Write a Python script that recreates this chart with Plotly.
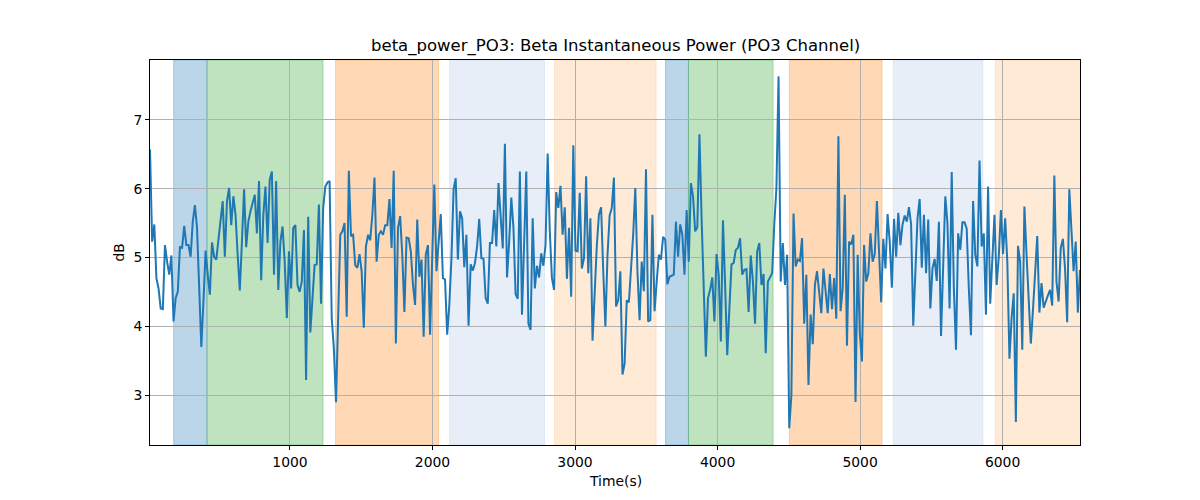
import numpy as np
import plotly.graph_objects as go

T_START = 18
T_END = 6543

beta_db = [
    6.57, 5.23, 5.48, 4.70, 4.55, 4.26, 4.25, 5.18, 4.94, 4.75, 5.03, 4.07, 4.41, 4.50, 5.15, 5.14, 5.46, 5.18, 5.18, 5.01,
    5.52, 5.76, 5.43, 4.55, 3.70, 4.36, 5.10, 4.75, 4.46, 5.22, 5.01, 4.97, 5.23, 5.48, 5.82, 5.01, 5.82, 6.01, 5.47, 5.89,
    5.62, 5.04, 4.52, 5.23, 5.99,
    5.15, 5.52, 5.67, 5.79, 5.91, 5.35, 6.11, 4.67, 5.62, 6.03, 5.21, 6.13, 6.25, 4.75, 6.11, 4.53, 5.23, 5.45, 4.94, 4.12,
    5.09, 4.55, 5.43, 5.47, 4.60, 4.50, 4.65, 5.40, 3.22, 5.59, 3.91, 4.41, 4.89, 4.90, 5.77, 4.33, 5.72, 6.03, 6.09, 6.11,
    4.12, 3.68, 2.90, 4.12, 5.33, 5.38,
    5.50, 4.14, 6.26, 5.31, 5.33, 4.89, 4.85, 5.05, 4.80, 3.98, 5.16, 5.33, 5.25, 5.62, 6.16, 4.94, 5.33, 5.38, 5.33, 5.47,
    5.47, 5.85, 5.14, 6.26, 3.75, 5.43, 5.60, 5.04, 4.21, 5.29, 5.28, 5.09, 4.60, 4.31, 5.55, 4.72, 4.97, 3.85, 5.04, 5.18,
    3.88, 5.00, 6.06, 4.80,
    5.23, 5.63, 4.70, 4.68, 3.88, 4.31, 4.99, 5.99, 6.15, 4.97, 5.67, 5.57, 4.86, 5.33, 4.01, 4.90, 4.81, 4.92, 5.16, 5.56,
    4.99, 4.98, 4.41, 4.33, 5.21, 5.21, 5.69, 5.16, 6.08, 5.52, 5.13, 6.65, 4.71, 5.23, 5.87, 5.43, 4.47, 4.40, 6.25, 4.17,
    5.21, 6.25, 4.04, 3.95, 5.57,
    4.55, 4.88, 4.71, 5.06, 4.88, 5.18, 6.51, 5.38, 4.70, 4.53, 5.95, 5.72, 6.04, 5.33, 5.73, 4.69, 5.43, 4.43, 6.63, 5.10,
    5.09, 5.94, 4.84, 4.99, 6.18, 4.77, 5.57, 3.79, 4.55, 5.18, 5.63, 5.73, 4.80, 4.00, 5.04, 5.61, 5.72, 6.16, 4.29, 4.38,
    4.80, 3.30, 3.46, 4.38,
    4.35, 4.84, 5.33, 6.01, 4.80, 4.09, 4.94, 4.51, 6.28, 4.07, 4.09, 5.62, 4.22, 4.65, 5.04, 4.97, 5.30, 5.26, 4.61, 4.72,
    4.74, 4.75, 5.52, 5.01, 5.48, 5.33, 4.75, 5.69, 4.94, 6.08, 5.89, 5.38, 5.44, 6.79, 5.57, 4.46, 3.56, 4.41, 4.53, 4.71,
    4.07, 5.05, 4.75, 3.78,
    5.54, 4.60, 3.58, 4.26, 4.90, 4.92, 5.11, 5.14, 5.28, 4.75, 4.82, 4.83, 4.21, 5.03, 4.65, 4.04, 5.09, 5.21, 4.60, 4.76,
    3.61, 4.65, 4.72, 4.77, 5.48, 6.01, 7.63, 4.65, 5.21, 4.60, 5.04, 2.52, 3.00, 5.64, 4.87, 4.97, 4.95, 5.28, 4.04, 4.75,
    3.15, 4.17, 3.74, 4.60, 4.80,
    4.48, 4.19, 4.84, 4.55, 4.19, 4.76, 4.25, 4.70, 4.11, 6.76, 4.22, 4.55, 5.91, 3.72, 5.23, 5.19, 5.33, 2.90, 5.04, 3.90,
    3.49, 5.18, 4.65, 4.77, 5.35, 4.94, 5.05, 5.82, 5.04, 4.35, 5.27, 4.84, 5.63, 5.23, 4.56, 5.56, 5.01, 5.65, 5.18, 5.48,
    5.61, 5.52, 5.73, 5.48,
    4.01, 4.77, 5.57, 5.85, 4.85, 5.62, 4.77, 5.55, 4.26, 4.84, 4.98, 4.66, 5.52, 3.86, 4.94, 5.89, 5.50, 4.26, 6.24, 4.55,
    3.66, 5.35, 5.11, 5.51, 5.51, 5.42, 4.55, 3.87, 5.82, 5.04, 4.87, 6.41, 5.16, 5.35, 4.17, 6.03, 4.33, 5.04, 5.62, 4.60,
    5.01, 5.69, 5.05, 5.57,
    4.94, 3.53, 4.12, 4.48, 2.61, 5.17, 4.94, 3.66, 5.74, 5.04, 4.36, 3.75, 4.24, 4.75, 5.31, 4.20, 4.63, 4.27, 4.37, 4.45,
    4.53, 4.30, 6.19, 4.65, 4.36, 5.14, 5.27, 4.84, 4.06, 5.99, 5.40, 4.80, 5.23, 4.20, 4.82,
]

time_s = np.linspace(T_START, T_END, len(beta_db))

band_starts = [184, 418, 1320, 2120, 2856, 3635, 3796, 4504, 5233, 5949]
band_ends = [418, 1232, 2043, 2786, 3569, 3796, 4390, 5154, 5862, 6600]
band_colors = [
    "rgba(31,119,180,0.3)", "rgba(44,160,44,0.3)", "rgba(255,127,14,0.3)",
    "rgba(174,199,232,0.3)", "rgba(255,187,120,0.3)",
    "rgba(31,119,180,0.3)", "rgba(44,160,44,0.3)", "rgba(255,127,14,0.3)",
    "rgba(174,199,232,0.3)", "rgba(255,187,120,0.3)",
]

x_ticks = [1000, 2000, 3000, 4000, 5000, 6000]
y_ticks = [3, 4, 5, 6, 7]

FONT = "DejaVu Sans"

fig = go.Figure()
fig.add_trace(go.Scatter(x=time_s, y=beta_db, mode="lines",
                         line=dict(color="#1f77b4", width=2), showlegend=False))

shapes = []
for s, e, c in zip(band_starts, band_ends, band_colors):
    shapes.append(dict(type="rect", xref="x", yref="paper", x0=s, x1=e, y0=0, y1=1,
                       fillcolor=c, line=dict(color=c, width=1), layer="below"))

fig.update_layout(
    width=1200, height=500,
    margin=dict(l=150, r=120, t=60, b=55),
    paper_bgcolor="white", plot_bgcolor="white",
    font=dict(family=FONT, size=14, color="black"),
    shapes=shapes,
    annotations=[
        dict(text="beta_power_PO3: Beta Instantaneous Power (PO3 Channel)", xref="paper", yref="paper",
             x=0.5, y=1.036, showarrow=False, font=dict(size=16.5, family=FONT), yanchor="middle"),
        dict(text="Time(s)", xref="paper", yref="paper", x=0.5, y=-0.0935, showarrow=False,
             font=dict(size=13.9, family=FONT), yanchor="middle"),
        dict(text="dB", xref="paper", yref="paper", x=-0.0344, y=0.5, showarrow=False, textangle=-90,
             font=dict(size=13.9, family=FONT), xanchor="center", yanchor="middle"),
    ],
)
fig.update_xaxes(range=[T_START, T_END], tickvals=x_ticks, tickformat="d",
                 showgrid=True, gridcolor="#b0b0b0", gridwidth=1,
                 showline=True, linecolor="black", linewidth=1, mirror=True,
                 ticks="outside", ticklen=4, tickcolor="black", tickwidth=1,
                 tickfont=dict(size=13.9, family=FONT), zeroline=False)
fig.update_yaxes(range=[2.277, 7.868], tickvals=y_ticks,
                 showgrid=True, gridcolor="#b0b0b0", gridwidth=1,
                 showline=True, linecolor="black", linewidth=1, mirror=True,
                 ticks="outside", ticklen=4, tickcolor="black", tickwidth=1,
                 tickfont=dict(size=13.9, family=FONT), zeroline=False)

fig.write_html("out.html")
